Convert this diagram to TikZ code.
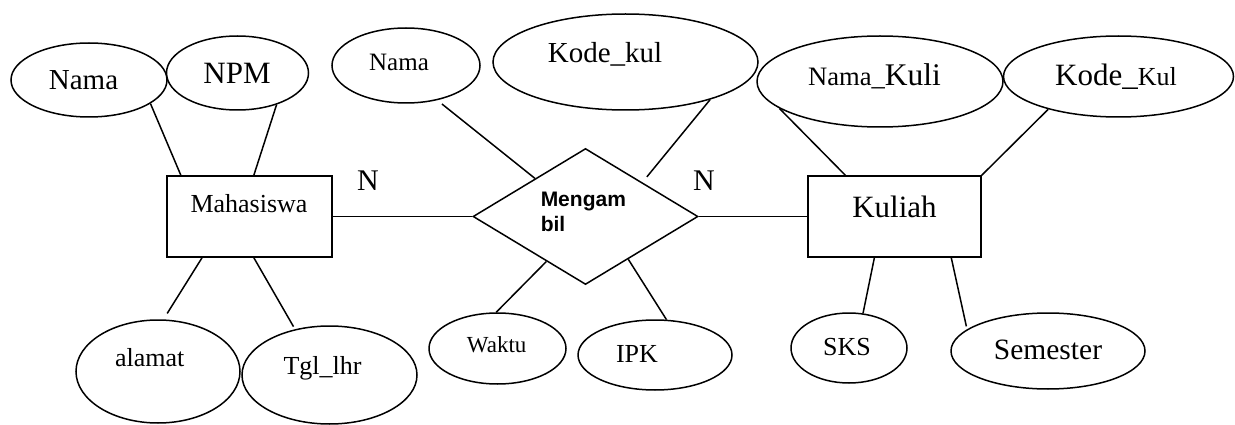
\documentclass[tikz,border=0pt]{standalone}
\usepackage{fontspec}
\setmainfont{Liberation Serif}
\newfontfamily\arialfont{Liberation Sans}
\usetikzlibrary{shapes.geometric}
\newcommand{\fs}[1]{\fontsize{#1}{#1}\selectfont}
\begin{document}
\begin{tikzpicture}[x=1pt,y=-1pt,line width=1.5pt,
  attr/.style={draw,ellipse,inner sep=0pt},
  ent/.style={draw,rectangle,inner sep=0pt},
  relship/.style={draw,diamond,inner sep=0pt},
  lbl/.style={anchor=base,inner sep=0pt}]
\useasboundingbox (0,0) rectangle (1235,425);
% shapes
\node[attr,minimum width=156pt,minimum height=74pt] (nama1) at (89,80) {};
\node[attr,minimum width=142pt,minimum height=74pt] (npm) at (237.5,73) {};
\node[ent,minimum width=165pt,minimum height=81pt] (maha) at (249.5,216.5) {};
\node[attr,minimum width=164pt,minimum height=103pt] (alamat) at (158,371.5) {};
\node[attr,minimum width=175pt,minimum height=98pt] (tgl) at (329.5,375) {};
\node[attr,minimum width=148pt,minimum height=75pt] (nama2) at (406,65.5) {};
\node[attr,minimum width=265pt,minimum height=96pt] (kodekul) at (625.5,62) {};
\node[relship,minimum width=225pt,minimum height=136pt] (ambil) at (585.5,216.5) {};
\node[attr,minimum width=137pt,minimum height=71pt] (waktu) at (497.5,348.5) {};
\node[attr,minimum width=154pt,minimum height=70pt] (ipk) at (655,355) {};
\node[ent,minimum width=173pt,minimum height=81pt] (kuliah) at (894.5,216.5) {};
\node[attr,minimum width=246pt,minimum height=91pt] (namakuli) at (880,81.5) {};
\node[attr,minimum width=230pt,minimum height=81pt] (kodeKul) at (1118.5,76.5) {};
\node[attr,minimum width=116pt,minimum height=70pt] (sks) at (849,348) {};
\node[attr,minimum width=194pt,minimum height=76pt] (semester) at (1048,351) {};
% texts
\node[lbl,font=\fs{29}] (tnama1) at (83.5,89.3) {Nama};
\node[lbl,font=\fs{31}] (tnpm) at (237,83.3) {NPM};
\node[lbl,font=\fs{26}] (tmaha) at (249,212.3) {Mahasiswa};
\node[lbl,font=\fs{30}] (tn1) at (368,190) {N};
\node[lbl,font=\fs{26}] (talamat) at (149.7,366.7) {alamat};
\node[lbl,font=\fs{26}] (ttgl) at (322.5,374) {Tgl\_lhr};
\node[lbl,font=\fs{25}] (tnama2) at (399,71) {Nama};
\node[lbl,font=\fs{29}] (tkodekul) at (605,62.7) {Kode\_kul};
\node[anchor=north west,inner sep=0pt,align=left,font=\arialfont\bfseries\fontsize{21}{25}\selectfont] (tambil) at (540,191.7) {Mengam\\bil};
\node[lbl,font=\fs{30}] (tn2) at (704,190) {N};
\node[lbl,font=\fs{23}] (twaktu) at (496.7,352.7) {Waktu};
\node[lbl,font=\fs{26}] (tipk) at (637,362.7) {IPK};
\node[lbl] (tnamakuli) at (874.5,86) {\fs{26.6}Nama\_\fs{31.5}Kuli};
\node[lbl] (tkodeKul) at (1116,86) {\fs{31}Kode\_\fs{26}Kul};
\node[lbl,font=\fs{31}] (tkuliah) at (894.5,217.7) {Kuliah};
\node[lbl,font=\fs{26}] (tsks) at (847,355.7) {SKS};
\node[lbl,font=\fs{29.5}] (tsemester) at (1048,359.3) {Semester};
% connectors
\draw (nama1.-21) -- (maha.149);
\draw (npm.-39) -- (maha.84);
\draw[shorten >=7pt] (maha.-139) -- (alamat.84);
\draw[shorten >=3pt] (maha.-84) -- (tgl.127);
\draw (maha.east) -- (ambil.west);
\draw[shorten <=6pt] (nama2.-48) -- (ambil.143);
\draw[shorten >=7pt] (kodekul.-24) -- (ambil.31);
\draw (ambil.-131) -- (waktu.92);
\draw (ambil.-45) -- (ipk.72);
\draw (ambil.east) -- (kuliah.west);
\draw (namakuli.-165) -- (kuliah.140);
\draw (kodeKul.-155) -- (kuliah.north east);
\draw (kuliah.-116) -- (sks.68);
\draw[shorten >=3pt] (kuliah.-36) -- (semester.165);
\end{tikzpicture}
\end{document}
